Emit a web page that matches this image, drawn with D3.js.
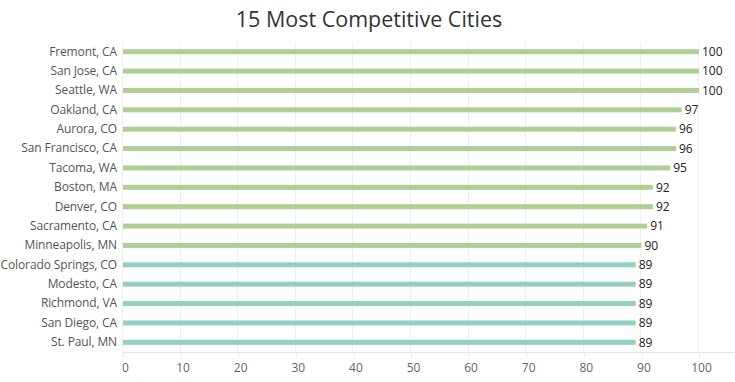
<!DOCTYPE html>
<html>
<head>
<meta charset="utf-8">
<script src="https://cdn.jsdelivr.net/npm/d3@7"></script>
<style>
  html, body { margin: 0; padding: 0; background: #fff; }
  svg { display: block; }
</style>
</head>
<body>
<svg id="chart" width="735" height="382"></svg>
<script>
const title = "15 Most Competitive Cities";
const cities = ["Fremont, CA","San Jose, CA","Seattle, WA","Oakland, CA","Aurora, CO","San Francisco, CA","Tacoma, WA","Boston, MA","Denver, CO","Sacramento, CA","Minneapolis, MN","Colorado Springs, CO","Modesto, CA","Richmond, VA","San Diego, CA","St. Paul, MN"];
const scores = [100,100,100,97,96,96,95,92,92,91,90,89,89,89,89,89];
const groups = ["A","A","A","A","A","A","A","A","A","A","A","B","B","B","B","B"];
const xTicks = [0,10,20,30,40,50,60,70,80,90,100];

(function () {
const font = "'Open Sans', 'Lato', sans-serif";
const svg = d3.select("#chart");
const W = 735;
const mLeft = 123, mRight = 699, mTop = 42, mBottom = 352;

const x = d3.scaleLinear().domain([0, 100]).range([mLeft, mRight]);
const y = d3.scaleBand().domain(cities).range([mTop, mBottom]);
const color = d3.scaleOrdinal().domain(["A","B"]).range(["#b0cf95", "#93cfc2"]);

// title
svg.append("text")
  .attr("x", 369).attr("y", 27)
  .attr("text-anchor", "middle")
  .attr("font-family", font)
  .attr("font-size", 21.5)
  .attr("fill", "#333")
  .text(title);

// gridlines
svg.append("g").selectAll("line").data(xTicks).join("line")
  .attr("x1", d => Math.round(x(d)) - 0.5).attr("x2", d => Math.round(x(d)) - 0.5)
  .attr("y1", mTop).attr("y2", mBottom)
  .attr("stroke", "#efefef").attr("stroke-width", 1);

// x axis
const xAxis = d3.axisBottom(x).tickValues(xTicks).tickSize(5).tickPadding(6).tickFormat(d3.format("d"));
const gx = svg.append("g").attr("transform", `translate(0,${mBottom})`).call(xAxis);
gx.select(".domain").remove();
gx.selectAll(".tick line").attr("stroke", "#e6e6e6");
gx.selectAll(".tick text").attr("font-family", font).attr("font-size", 12).attr("fill", "#666").attr("dx", 2);
svg.append("line")
  .attr("x1", mLeft - 1).attr("x2", W).attr("y1", mBottom + 0.5).attr("y2", mBottom + 0.5)
  .attr("stroke", "#e6e6e6");

// y labels
const yAxis = d3.axisLeft(y).tickSize(0).tickPadding(6);
const gy = svg.append("g").attr("transform", `translate(${mLeft},0)`).call(yAxis);
gy.select(".domain").remove();
gy.selectAll(".tick text").attr("font-family", font).attr("font-size", 12)
  .attr("letter-spacing", "-0.12px").attr("fill", "#555");

// bars
const barH = 5;
const rows = cities.map((c, i) => ({ city: c, score: scores[i], group: groups[i] }));
svg.append("g").selectAll("rect").data(rows).join("rect")
  .attr("x", x(0))
  .attr("y", d => y(d.city) + y.bandwidth() / 2 - barH / 2)
  .attr("width", d => x(d.score) - x(0))
  .attr("height", barH)
  .attr("fill", d => color(d.group));

// value labels
svg.append("g").selectAll("text").data(rows).join("text")
  .attr("x", d => x(d.score) + 3)
  .attr("y", d => y(d.city) + y.bandwidth() / 2)
  .attr("dy", "0.35em")
  .attr("font-family", font)
  .attr("font-size", 12)
  .attr("fill", "#222")
  .text(d => d.score);
})();
</script>
</body>
</html>
